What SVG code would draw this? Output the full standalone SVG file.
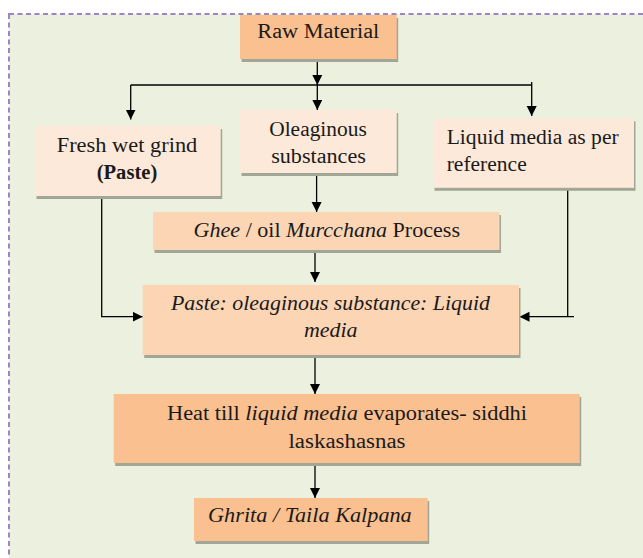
<svg xmlns="http://www.w3.org/2000/svg" width="643" height="558" viewBox="0 0 643 558">
<style>
.t{font-family:'Liberation Serif',serif;font-size:20.5px;fill:#1a1a1a}
.i{font-style:italic}
.b{font-weight:bold}
.c1{fill:#fac090}
.c2{fill:#fcd5b5}
.c3{fill:#fde9d9}
.sh{fill:#a2a696}
.ln{stroke:#000;stroke-width:1.3;fill:none}
</style>
<defs>
<marker id="ah" markerUnits="userSpaceOnUse" markerWidth="12" markerHeight="12" refX="10" refY="5" orient="auto">
<path d="M0,0 L10,5 L0,10 Z" fill="#000"/>
</marker>
</defs>
<rect x="0" y="0" width="643" height="558" fill="#ffffff"/>
<rect x="9" y="14" width="700" height="620" fill="#ebf1de" stroke="#9a86c2" stroke-width="2" stroke-dasharray="5 3.5"/>

<g id="connectors">
<path class="ln" d="M317.3,60 V85" marker-end="url(#ah)"/>
<path class="ln" d="M130.7,85 H531.7"/>
<path class="ln" d="M130.7,85 V119.5" marker-end="url(#ah)"/>
<path class="ln" d="M317.3,85 V110" marker-end="url(#ah)"/>
<path class="ln" d="M531.7,82 V116" marker-end="url(#ah)"/>
<path class="ln" d="M101.7,198 V316.7 H142.7" marker-end="url(#ah)"/>
<path class="ln" d="M567.7,190 V316.7"/>
<path class="ln" d="M574,316.7 H519.5" marker-end="url(#ah)"/>
<path class="ln" d="M316.6,176 V212" marker-end="url(#ah)"/>
<path class="ln" d="M315,252 V282" marker-end="url(#ah)"/>
<path class="ln" d="M315,358 V394" marker-end="url(#ah)"/>
<path class="ln" d="M315,466 V498" marker-end="url(#ah)"/>
</g>

<g id="raw">
<rect class="sh" x="241.5" y="18" width="156.7" height="44"/>
<rect class="c1" x="240" y="15" width="156.7" height="44"/>
<text class="t" x="318.3" y="38.3" text-anchor="middle" textLength="122" lengthAdjust="spacingAndGlyphs">Raw Material</text>
</g>

<g id="fresh">
<rect class="sh" x="36.5" y="129" width="185.7" height="70"/>
<rect class="c3" x="35" y="126" width="185.7" height="70"/>
<text class="t" x="127" y="151.7" text-anchor="middle" textLength="140.6" lengthAdjust="spacingAndGlyphs">Fresh wet grind</text>
<text class="t b" x="127" y="179" text-anchor="middle" textLength="60.6" lengthAdjust="spacingAndGlyphs">(Paste)</text>
</g>

<g id="oleaginous">
<rect class="sh" x="241.5" y="113" width="156.7" height="63"/>
<rect class="c3" x="240" y="110" width="156.7" height="63"/>
<text class="t" x="318" y="136" text-anchor="middle" textLength="97.6" lengthAdjust="spacingAndGlyphs">Oleaginous</text>
<text class="t" x="318.5" y="163" text-anchor="middle" textLength="94.7" lengthAdjust="spacingAndGlyphs">substances</text>
</g>

<g id="liquid">
<rect class="sh" x="434.5" y="121.3" width="201" height="69.5"/>
<rect class="c3" x="433" y="118.3" width="201" height="69.5"/>
<text class="t" x="446.7" y="144" textLength="172" lengthAdjust="spacingAndGlyphs">Liquid media as per</text>
<text class="t" x="446.7" y="170.7" textLength="80" lengthAdjust="spacingAndGlyphs">reference</text>
</g>

<g id="ghee">
<rect class="sh" x="154.5" y="215" width="346.5" height="38"/>
<rect class="c2" x="153" y="212" width="346.5" height="38"/>
<text class="t" x="326.8" y="237" text-anchor="middle" textLength="266.5" lengthAdjust="spacingAndGlyphs"><tspan class="i">Ghee</tspan> / oil <tspan class="i">Murcchana</tspan> Process</text>
</g>

<g id="mix">
<rect class="sh" x="144.2" y="288" width="376.3" height="70"/>
<rect class="c2" x="142.7" y="285" width="376.3" height="70"/>
<text class="t i" x="330.5" y="310" text-anchor="middle" textLength="319" lengthAdjust="spacingAndGlyphs">Paste: oleaginous substance: Liquid</text>
<text class="t i" x="330.8" y="337" text-anchor="middle" textLength="53.6" lengthAdjust="spacingAndGlyphs">media</text>
</g>

<g id="heat">
<rect class="sh" x="115.2" y="397" width="466" height="69"/>
<rect class="c1" x="113.7" y="394" width="466" height="69"/>
<text class="t" x="347" y="420" text-anchor="middle" textLength="360" lengthAdjust="spacingAndGlyphs">Heat till <tspan class="i">liquid media</tspan> evaporates- siddhi</text>
<text class="t" x="347" y="448" text-anchor="middle" textLength="117" lengthAdjust="spacingAndGlyphs">laskashasnas</text>
</g>

<g id="ghrita">
<rect class="sh" x="195.5" y="501" width="233.7" height="43"/>
<rect class="c1" x="194" y="498" width="233.7" height="43"/>
<text class="t i" x="309.9" y="521.7" text-anchor="middle" textLength="203.7" lengthAdjust="spacingAndGlyphs">Ghrita / Taila Kalpana</text>
</g>
</svg>
